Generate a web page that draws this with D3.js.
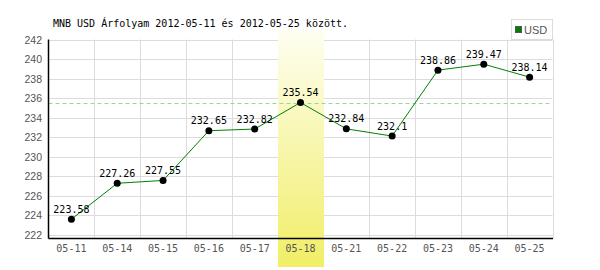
<!DOCTYPE html>
<html>
<head>
<meta charset="utf-8">
<script src="https://cdnjs.cloudflare.com/ajax/libs/d3/7.8.5/d3.min.js"></script>
<style>
    body { margin: 0; background: #fff; }
    svg { display: block; }
</style>
</head>
<body>
<svg id="chart"></svg>
<script>
//Chart data
var dates = ["05-11", "05-14", "05-15", "05-16", "05-17", "05-18", "05-21", "05-22", "05-23", "05-24", "05-25"];
var rates = [223.58, 227.26, 227.55, 232.65, 232.82, 235.54, 232.84, 232.1, 238.86, 239.47, 238.14];
var yTicks = [222, 224, 226, 228, 230, 232, 234, 236, 238, 240, 242];
var highlightDate = "05-18";
var refValue = 235.54;
var seriesName = "USD";
var title = "MNB USD Árfolyam 2012-05-11 és 2012-05-25 között.";

var draw = function () {
    //Dimensions (in pixels)
    var width = 600,
        height = 270;
    var left = 48.5, right = 552.5, top = 39.5, bottom = 238.5;
    var mono = "'DejaVu Sans Mono', monospace";

    var svg = d3.select("#chart")
        .attr("width", width)
        .attr("height", height);

    var x = d3.scaleBand()
        .domain(dates)
        .range([left, right]);

    var y = d3.scaleLinear()
        .domain([221.6, 242])
        .range([bottom, top]);

    //Gradient for the highlighted day
    var grad = svg.append("defs").append("linearGradient")
        .attr("id", "hl")
        .attr("x1", 0).attr("y1", 0).attr("x2", 0).attr("y2", 1);
    grad.append("stop").attr("offset", "0%").attr("stop-color", "#fefef2");
    grad.append("stop").attr("offset", "100%").attr("stop-color", "#f1ee66");

    //Grid
    var grid = svg.append("g").attr("class", "grid")
        .attr("stroke", "#dcdcdc")
        .attr("stroke-width", 1);

    grid.selectAll("line.h")
        .data(yTicks).enter()
        .append("line")
        .attr("x1", left).attr("x2", right)
        .attr("y1", function (d) { return Math.round(y(d)) + 0.5; })
        .attr("y2", function (d) { return Math.round(y(d)) + 0.5; });

    grid.selectAll("line.v")
        .data(dates).enter()
        .append("line")
        .attr("x1", function (d) { return Math.round(x(d) + x.bandwidth()) + 0.5; })
        .attr("x2", function (d) { return Math.round(x(d) + x.bandwidth()) + 0.5; })
        .attr("y1", top).attr("y2", bottom);

    //Highlighted day
    svg.append("rect")
        .attr("x", Math.round(x(highlightDate)))
        .attr("y", 30)
        .attr("width", Math.round(x.bandwidth()))
        .attr("height", 237)
        .attr("fill", "url(#hl)");

    //Reference line at the highlighted rate
    svg.append("line")
        .attr("x1", left).attr("x2", right)
        .attr("y1", Math.round(y(refValue)) + 0.5)
        .attr("y2", Math.round(y(refValue)) + 0.5)
        .attr("stroke", "#99d699")
        .attr("stroke-dasharray", "4,3");

    //Axes
    svg.append("line")
        .attr("x1", left).attr("x2", left)
        .attr("y1", top).attr("y2", bottom)
        .attr("stroke", "#000").attr("stroke-width", 1.5);
    svg.append("line")
        .attr("x1", left).attr("x2", right + 0.5)
        .attr("y1", bottom).attr("y2", bottom)
        .attr("stroke", "#000").attr("stroke-width", 1.5);

    svg.append("g")
        .selectAll("text")
        .data(yTicks).enter()
        .append("text")
        .attr("x", 42)
        .attr("y", function (d) { return y(d) + 4; })
        .attr("text-anchor", "end")
        .attr("font-family", "'Liberation Sans', Arial, sans-serif")
        .attr("font-size", "10.5px")
        .attr("fill", "#555")
        .text(function (d) { return d; });

    svg.append("g")
        .selectAll("text")
        .data(dates).enter()
        .append("text")
        .attr("x", function (d) { return x(d) + x.bandwidth() / 2; })
        .attr("y", 252)
        .attr("text-anchor", "middle")
        .attr("font-family", mono)
        .attr("font-size", "10px")
        .attr("fill", "#555")
        .text(function (d) { return d; });

    //Series line
    var line = d3.line()
        .x(function (d, i) { return x(dates[i]) + x.bandwidth() / 2; })
        .y(function (d) { return y(d); });

    svg.append("path")
        .datum(rates)
        .attr("d", line)
        .attr("fill", "none")
        .attr("stroke", "#008000")
        .attr("stroke-width", 1);

    svg.selectAll("circle")
        .data(rates).enter()
        .append("circle")
        .attr("cx", function (d, i) { return x(dates[i]) + x.bandwidth() / 2; })
        .attr("cy", function (d) { return y(d); })
        .attr("r", 3.5)
        .attr("fill", "#000");

    svg.append("g")
        .selectAll("text")
        .data(rates).enter()
        .append("text")
        .attr("x", function (d, i) { return x(dates[i]) + x.bandwidth() / 2; })
        .attr("y", function (d) { return y(d) - 6.5; })
        .attr("text-anchor", "middle")
        .attr("font-family", mono)
        .attr("font-size", "10px")
        .attr("fill", "#000")
        .text(function (d) { return d; });

    //Title
    svg.append("text")
        .attr("x", 53)
        .attr("y", 27)
        .attr("font-family", mono)
        .attr("font-size", "10px")
        .attr("fill", "#000")
        .text(title);

    //Legend
    var legend = svg.append("g");
    legend.append("rect")
        .attr("x", 511.5).attr("y", 19.5)
        .attr("width", 41).attr("height", 20)
        .attr("fill", "#fff")
        .attr("stroke", "#dcdcdc");
    legend.append("rect")
        .attr("x", 515.5).attr("y", 26.5)
        .attr("width", 6).attr("height", 6)
        .attr("fill", "#008000")
        .attr("stroke", "#555");
    legend.append("text")
        .attr("x", 524)
        .attr("y", 33.5)
        .attr("font-family", "'Liberation Sans Narrow', 'Liberation Sans', sans-serif")
        .attr("font-size", "11px")
        .attr("fill", "#555")
        .text(seriesName);
}

draw();
</script>
</body>
</html>
